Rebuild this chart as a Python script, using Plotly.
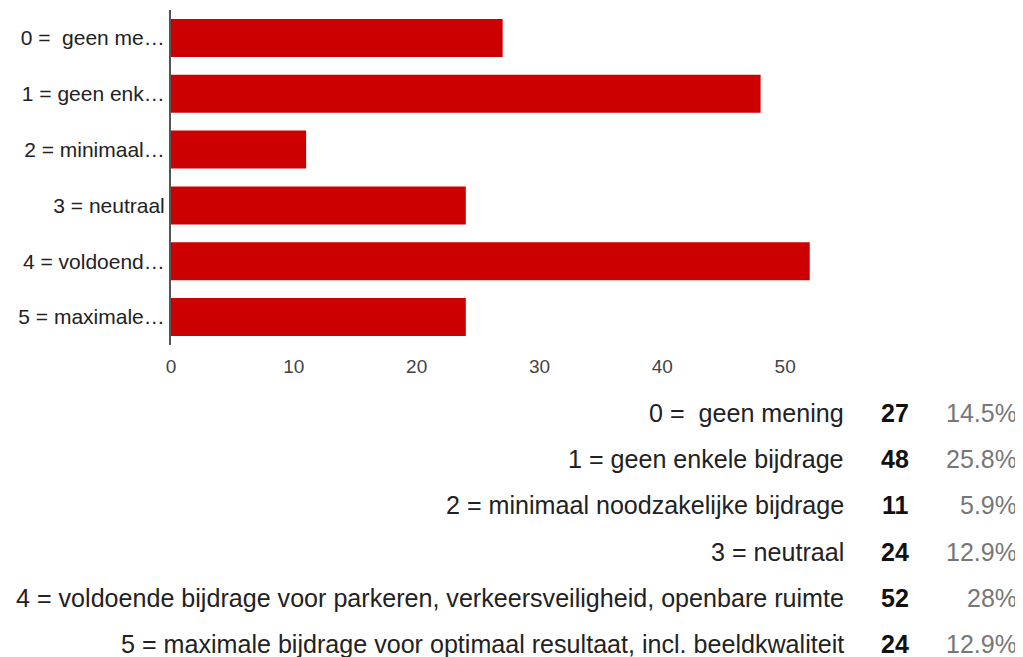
import plotly.graph_objects as go

categories = [
    "0 =\u00a0 geen mening",
    "1 = geen enkele bijdrage",
    "2 = minimaal noodzakelijke bijdrage",
    "3 = neutraal",
    "4 = voldoende bijdrage voor parkeren, verkeersveiligheid, openbare ruimte",
    "5 = maximale bijdrage voor optimaal resultaat, incl. beeldkwaliteit",
]
short_labels = [
    "0 =\u00a0 geen me…",
    "1 = geen enk…",
    "2 = minimaal…",
    "3 = neutraal",
    "4 = voldoend…",
    "5 = maximale…",
]
counts = [27, 48, 11, 24, 52, 24]
percents = ["14.5%", "25.8%", "5.9%", "12.9%", "28%", "12.9%"]
x_ticks = [0, 10, 20, 30, 40, 50]

# page body has an 8px margin; work in screen pixels and subtract it
OFF = 8
W, H = 1023 - OFF, 657 - OFF
L, R_EDGE = 171 - OFF, 908 - OFF
T, B_EDGE = 10 - OFF, 345 - OFF
FONT = "Arial, Liberation Sans, sans-serif"

fig = go.Figure(go.Bar(
    x=counts, y=categories, orientation="h",
    marker=dict(color="#cc0000", line=dict(width=0)),
    hoverinfo="x+y",
))

def px_x(px):
    return (px - OFF - L) / (R_EDGE - L)

def px_y(py):
    return (B_EDGE - (py - OFF)) / (B_EDGE - T)

row_y = [413, 459.2, 505.4, 551.6, 597.8, 644]
ann = []
for i, cat in enumerate(categories):
    yy = px_y(row_y[i])
    ann.append(dict(x=px_x(846), y=yy, xref="paper", yref="paper", text=cat,
                    xanchor="right", yanchor="middle", showarrow=False,
                    font=dict(family=FONT, size=25.1, color="#222222")))
    ann.append(dict(x=px_x(911), y=yy, xref="paper", yref="paper",
                    text="<b>%d</b>" % counts[i],
                    xanchor="right", yanchor="middle", showarrow=False,
                    font=dict(family=FONT, size=25, color="#111111")))
    ann.append(dict(x=px_x(1019), y=yy, xref="paper", yref="paper", text=percents[i],
                    xanchor="right", yanchor="middle", showarrow=False,
                    font=dict(family=FONT, size=25, color="#777777")))

fig.update_layout(
    width=W, height=H, autosize=False,
    margin=dict(l=L, r=W - R_EDGE, t=T, b=H - B_EDGE, pad=0),
    paper_bgcolor="white", plot_bgcolor="white",
    bargap=0.32,
    showlegend=False,
    annotations=ann,
    font=dict(family=FONT),
)
fig.update_xaxes(range=[0, 60], tickvals=x_ticks, showgrid=False, zeroline=False,
                 showline=False, ticks="", ticklabelstandoff=8,
                 tickfont=dict(family=FONT, size=19, color="#444444"),
                 fixedrange=True)
fig.update_yaxes(autorange="reversed", tickvals=categories, ticktext=short_labels,
                 showgrid=False, zeroline=False, showline=True, linecolor="#555555",
                 linewidth=2, ticks="", tickfont=dict(family=FONT, size=21, color="#222222"),
                 fixedrange=True)

fig.write_html("out.html")
